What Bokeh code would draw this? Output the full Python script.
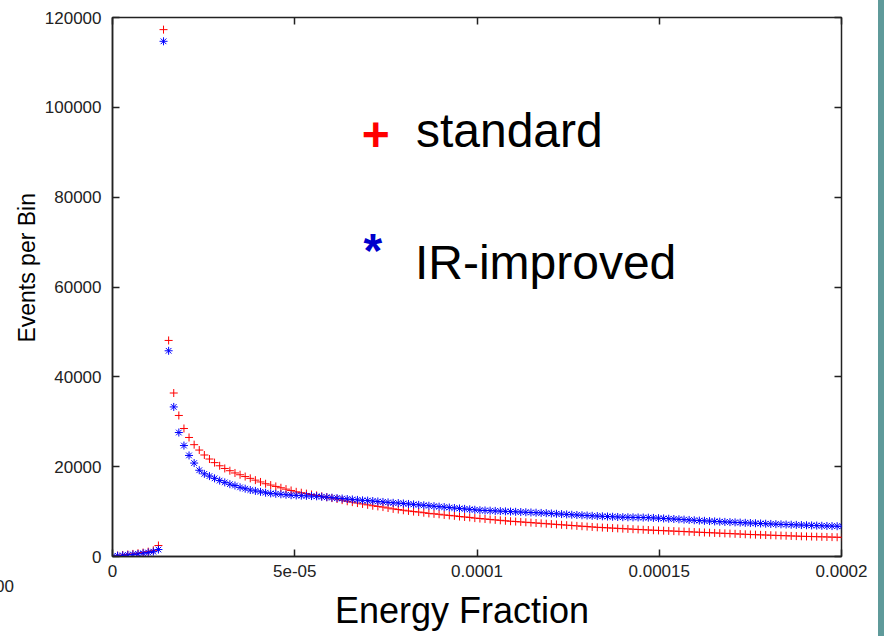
from bokeh.plotting import figure
from bokeh.models import (Range1d, LinearAxis, FixedTicker, Label, Spacer, Title,
                          BasicTickFormatter, ColumnDataSource)
from bokeh.layouts import row
from bokeh.embed import file_html
from bokeh.resources import INLINE

# ---------------- data ----------------
BIN_WIDTH = 1.4e-6  # spacing of histogram bins in energy fraction

standard = [
    120, 230, 340, 450, 580, 720, 880, 1080, 1380, 2450,
    117300, 48100, 36400, 31400, 28500, 26500, 24900, 23700, 22600, 21700,
    20900, 20200, 19600, 19100, 18600, 18200, 17800, 17400, 17000, 16600,
    16200, 15900, 15600, 15300, 15000, 14700, 14400, 14200, 14000, 13800,
    13600, 13400, 13200, 13000, 12800, 12550, 12300, 12100, 11900, 11700,
    11500, 11300, 11150, 11000, 10800, 10600, 10450, 10300, 10150, 10000,
    9900, 9750, 9600, 9500, 9400, 9250, 9150, 9050, 8900, 8800,
    8700, 8550, 8450, 8350, 8250, 8150, 8050, 7950, 7850, 7780,
    7700, 7620, 7540, 7460, 7380, 7300, 7220, 7140, 7060, 6980,
    6900, 6820, 6740, 6660, 6580, 6500, 6440, 6380, 6320, 6260,
    6200, 6140, 6080, 6020, 5960, 5900, 5850, 5800, 5750, 5700,
    5650, 5600, 5550, 5500, 5450, 5400, 5350, 5300, 5250, 5200,
    5150, 5100, 5050, 5000, 4950, 4900, 4860, 4820, 4780, 4740,
    4700, 4660, 4620, 4580, 4540, 4500, 4470, 4440, 4410, 4380,
    4350, 4320, 4290, 4260,
]

ir_improved = [
    80, 160, 250, 350, 460, 580, 720, 880, 1080, 1550,
    114700, 45800, 33300, 27600, 24700, 22500, 20800, 19200, 18400, 17900,
    17400, 16900, 16500, 16100, 15800, 15400, 15100, 14800, 14600, 14400,
    14200, 14050, 13950, 13850, 13750, 13650, 13600, 13550, 13500, 13450,
    13400, 13300, 13200, 13100, 13000, 12900, 12800, 12700, 12600, 12500,
    12450, 12350, 12250, 12150, 12050, 11950, 11900, 11800, 11700, 11600,
    11500, 11400, 11300, 11200, 11100, 11000, 10900, 10800, 10700, 10600,
    10500, 10400, 10300, 10250, 10200, 10150, 10100, 10050, 10000, 9950,
    9900, 9850, 9800, 9750, 9700, 9650, 9580, 9510, 9440, 9370,
    9300, 9240, 9180, 9120, 9060, 9000, 8950, 8900, 8850, 8800,
    8750, 8730, 8710, 8690, 8670, 8650, 8590, 8530, 8470, 8410,
    8350, 8280, 8210, 8140, 8070, 8000, 7940, 7880, 7820, 7760,
    7700, 7650, 7600, 7550, 7500, 7450, 7400, 7350, 7300, 7250,
    7200, 7160, 7120, 7080, 7040, 7000, 6960, 6920, 6880, 6840,
    6800, 6770, 6740, 6710,
]

x_ticks = [0, 5e-05, 0.0001, 0.00015, 0.0002]
x_tick_labels = ["0", "5e-05", "0.0001", "0.00015", "0.0002"]
y_ticks = [0, 20000, 40000, 60000, 80000, 100000, 120000]

energy = [i * BIN_WIDTH for i in range(len(standard))]

FONT = "Liberation Sans"
NBSP = "\u00a0"

# ---------------- figure ----------------
p = figure(width=878, height=636, output_backend="svg", toolbar_location=None,
           x_range=Range1d(0, 0.0002), y_range=Range1d(0, 120000),
           min_border_left=112, min_border_right=37, min_border_top=17,
           min_border_bottom=80)
p.background_fill_color = "white"
p.border_fill_color = "white"
p.grid.visible = False
p.outline_line_color = "#222222"
p.outline_line_width = 1.5

for ax in (p.xaxis[0], p.yaxis[0]):
    ax.major_tick_in = 7
    ax.major_tick_out = 0
    ax.minor_tick_line_color = None
    ax.axis_line_color = "#222222"
    ax.axis_line_width = 1.5
    ax.major_tick_line_color = "#222222"
    ax.major_tick_line_width = 1.5
    ax.major_label_text_font = FONT
    ax.major_label_text_font_size = "17px"
    ax.major_label_text_color = "#222222"

p.xaxis[0].ticker = FixedTicker(ticks=x_ticks)
p.xaxis[0].major_label_overrides = {t: s for t, s in zip(x_ticks, x_tick_labels)}
p.xaxis[0].major_label_standoff = 8
p.yaxis[0].ticker = FixedTicker(ticks=y_ticks)
p.yaxis[0].formatter = BasicTickFormatter(use_scientific=False)
p.yaxis[0].major_label_standoff = 11

# mirrored axes (ticks only) on top and right
top = LinearAxis(ticker=FixedTicker(ticks=x_ticks))
top.major_label_overrides = {t: "" for t in x_ticks}
right = LinearAxis(ticker=FixedTicker(ticks=y_ticks))
right.major_label_overrides = {t: "" for t in y_ticks}
for ax in (top, right):
    ax.major_tick_in = 7
    ax.major_tick_out = 0
    ax.minor_tick_line_color = None
    ax.axis_line_color = None
    ax.major_tick_line_color = "#222222"
    ax.major_tick_line_width = 1.5
    ax.major_label_text_font_size = "10px"
    ax.major_label_standoff = 0
p.add_layout(top, "above")
p.add_layout(right, "right")

src = ColumnDataSource(dict(x=energy, std=standard, ir=ir_improved))
p.scatter("x", "std", source=src, marker="cross", size=8,
          line_color="#ff0000", line_width=1)
p.scatter("x", "ir", source=src, marker="asterisk", size=8,
          line_color="#0000ff", line_width=1)

# ---------------- titles outside the frame ----------------
# stray cut-off text at the lower left of the slide
p.add_layout(Title(text="000", align="left", offset=-127, standoff=-4,
                   text_font=FONT, text_font_size="17px",
                   text_font_style="normal", text_color="#222222"), "below")
p.add_layout(Title(text="Energy Fraction" + NBSP * 3, align="center",
                   standoff=-4, text_font=FONT, text_font_size="36px",
                   text_font_style="normal", text_color="black"), "below")
p.add_layout(Title(text=NBSP * 6 + "Events per Bin", align="center",
                   standoff=3, text_font=FONT, text_font_size="23px",
                   text_font_style="normal", text_color="black"), "left")

# ---------------- in-plot key ----------------
def X(px):
    return (px - 112) / 728 * 0.0002

def Y(py):
    return (556 - py) / 539 * 120000

p.add_layout(Label(x=X(375), y=Y(134), text="+", text_font=FONT,
                   text_font_size="48px", text_font_style="bold",
                   text_color="#ff0000", text_align="center",
                   text_baseline="alphabetic"))
p.add_layout(Label(x=X(415), y=Y(130), text="standard", text_font=FONT,
                   text_font_size="48px", text_color="black",
                   text_baseline="alphabetic"))
p.add_layout(Label(x=X(372), y=Y(250), text="*", text_font=FONT,
                   text_font_size="48px", text_font_style="bold",
                   text_color="#0000cc", text_align="center",
                   text_baseline="alphabetic"))
p.add_layout(Label(x=X(414), y=Y(262), text="IR-improved", text_font=FONT,
                   text_font_size="48px", text_color="black",
                   text_baseline="alphabetic"))

bar = Spacer(width=6, height=636, styles={"background-color": "#5f9a9a"})
layout = row(p, bar)

open("out.html", "w").write(file_html(layout, INLINE))
